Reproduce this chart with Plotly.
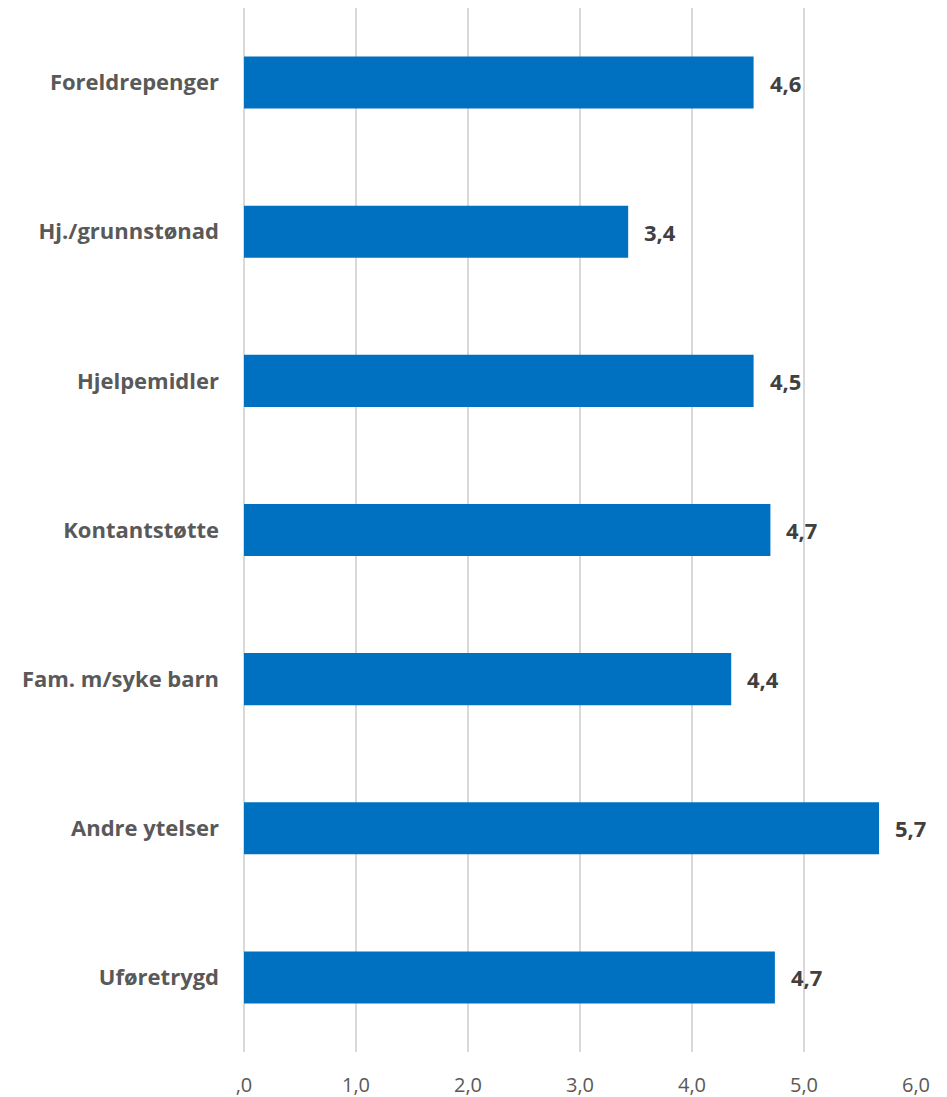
import plotly.graph_objects as go

categories = ["Foreldrepenger", "Hj./grunnstønad", "Hjelpemidler", "Kontantstøtte",
              "Fam. m/syke barn", "Andre ytelser", "Uføretrygd"]
values = [4.55, 3.43, 4.55, 4.70, 4.35, 5.67, 4.74]
value_labels = ["4,6", "3,4", "4,5", "4,7", "4,4", "5,7", "4,7"]
tick_vals = [0, 1, 2, 3, 4, 5, 6]
tick_text = [",0", "1,0", "2,0", "3,0", "4,0", "5,0", "6,0"]

fig = go.Figure()
fig.add_trace(go.Bar(
    x=values, y=categories, orientation="h",
    marker=dict(color="#0070C0", line=dict(width=0)),
    hoverinfo="skip",
))
for c, v, t in zip(categories, values, value_labels):
    fig.add_annotation(x=v, y=c, text=f"<b>{t}</b>", showarrow=False,
                       xanchor="left", xshift=14,
                       font=dict(family="Open Sans", size=22, color="#404040"))

fig.update_layout(
    width=939, height=1089,
    margin=dict(l=236, r=31, t=0, b=45, autoexpand=False),
    paper_bgcolor="white", plot_bgcolor="white",
    bargap=0.651, showlegend=False,
    xaxis=dict(range=[0, 6], tickvals=tick_vals, ticktext=tick_text,
               automargin=False,
               showgrid=True, gridcolor="#D9D9D9", gridwidth=1.5,
               zeroline=True, zerolinecolor="#D9D9D9", zerolinewidth=1.5,
               showline=False, ticks="", ticklabelstandoff=19,
               tickfont=dict(family="Open Sans", size=20, color="#595959")),
    yaxis=dict(autorange="reversed", showgrid=False, showline=False, ticks="",
               automargin=False, ticklabelstandoff=24,
               tickfont=dict(family="Open Sans", size=22, color="#595959"),
               tickprefix="<b>", ticksuffix="</b>"),
)
fig.write_html("out.html")
